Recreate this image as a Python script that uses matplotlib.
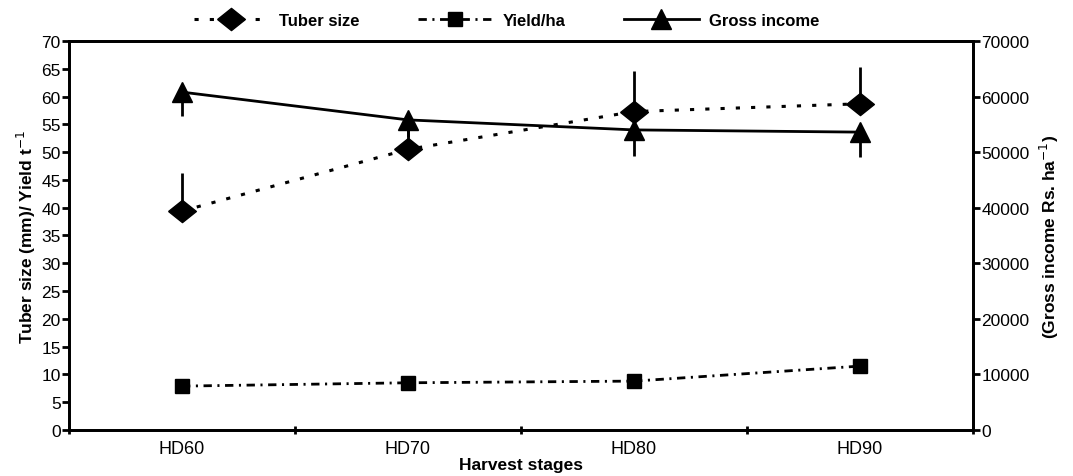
import matplotlib
matplotlib.use("Agg")
import matplotlib.pyplot as plt
import numpy as np

# Datos
etapas = ["HD60", "HD70", "HD80", "HD90"]
tamano_tuberculo = [39.4, 50.5, 57.3, 58.7]
tamano_err = [6.8, 6.5, 7.3, 6.7]
rendimiento = [7.9, 8.5, 8.8, 11.5]
ingreso_bruto = [60800, 55800, 54000, 53600]
ingreso_err = [4300, 3000, 4700, 4500]

plt.rcParams["font.family"] = ["Liberation Sans", "DejaVu Sans"]
plt.rcParams["lines.scale_dashes"] = False

# rombo algo achatado como en el original
rombo = [(-1, 0), (0, 0.8), (1, 0), (0, -0.8), (-1, 0)]

fig = plt.figure(figsize=(10.73, 4.77), dpi=100)
ax = fig.add_axes([0.0643, 0.0964, 0.8425, 0.8156])
ax2 = ax.twinx()

x = np.arange(len(etapas))
ceros = np.zeros(len(etapas))

# Tamano de tuberculo (error hacia arriba)
ax.errorbar(x, tamano_tuberculo, yerr=[ceros, tamano_err], fmt="none",
            ecolor="black", elinewidth=2, capsize=0)
l1, = ax.plot(x, tamano_tuberculo, color="black", lw=2.2, ls=(0, (3, 8)),
              marker=rombo, ms=20, mfc="black", mec="black", label="Tuber size")

# Rendimiento
l2, = ax.plot(x, rendimiento, color="black", lw=2, ls=(0, (6, 4, 1.5, 4)),
              marker="s", ms=9.5, mfc="black", mec="black", label="Yield/ha")

# Ingreso bruto (eje derecho, error hacia abajo)
ax2.errorbar(x, ingreso_bruto, yerr=[ingreso_err, ceros], fmt="none",
             ecolor="black", elinewidth=2, capsize=0)
l3, = ax2.plot(x, ingreso_bruto, color="black", lw=2, ls="-",
               marker="^", ms=15, mfc="black", mec="black", label="Gross income")

ax.set_xlim(-0.5, 3.5)
ax.set_ylim(0, 70)
ax2.set_ylim(0, 70000)
ax.set_yticks(np.arange(0, 71, 5))
ax2.set_yticks(np.arange(0, 70001, 10000))

ax.set_xticks(x)
ax.set_xticklabels(etapas, fontsize=13)
ax.set_xticks(np.arange(-0.5, 3.6, 1), minor=True)
ax.tick_params(axis="x", which="major", length=0, pad=7)
ax.tick_params(axis="x", which="minor", length=6, width=2, direction="inout")
ax.tick_params(axis="y", length=5, width=2, labelsize=12.5, pad=1)
ax2.tick_params(axis="y", length=5, width=2, labelsize=12.5, pad=1)

for a in (ax, ax2):
    for s in a.spines.values():
        s.set_linewidth(2)

ax.set_xlabel("Harvest stages", fontsize=12.5, fontweight="bold", labelpad=0)
ax.set_ylabel("Tuber size (mm)/ Yield t$^{-1}$", fontsize=12.5, fontweight="bold", labelpad=2)
ax2.set_ylabel("(Gross income Rs. ha$^{-1}$)", fontsize=12.5, fontweight="bold",
               rotation=90, labelpad=6)

fig.legend(handles=[l1, l2, l3], loc="center", bbox_to_anchor=(0.472, 0.955),
           ncol=3, frameon=False, handlelength=4.5, handletextpad=0.6,
           columnspacing=3.5, prop={"size": 12, "weight": "bold"})

fig.savefig("out.png", dpi=100)
